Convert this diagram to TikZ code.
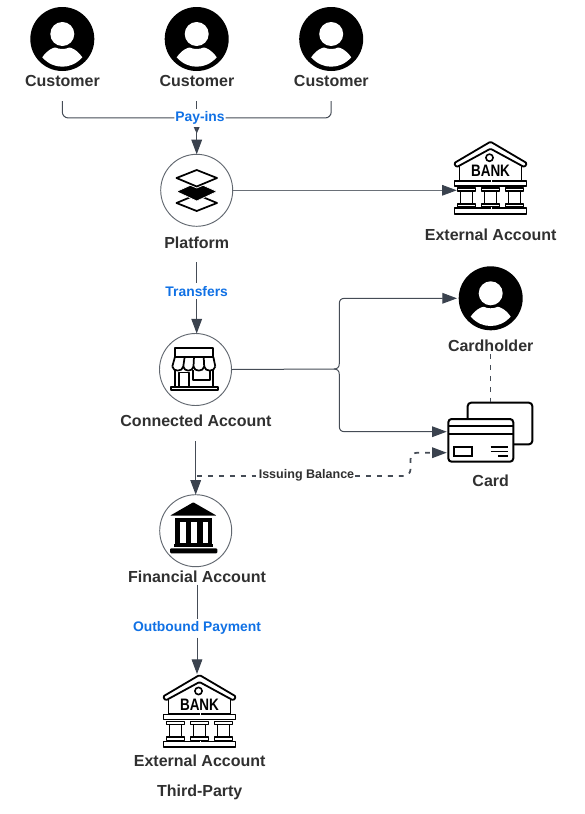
\documentclass[tikz,border=0pt]{standalone}
\usepackage{fontspec}
\setmainfont{Liberation Sans}
\usetikzlibrary{arrows.meta}
\definecolor{txt}{HTML}{303030}
\definecolor{blu}{HTML}{1071E5}
\definecolor{conn}{HTML}{454C56}
\definecolor{tip}{HTML}{3A424E}
\tikzset{
  caption/.style={font=\bfseries\fontsize{12}{14}\selectfont,text=txt,inner sep=0pt,yshift=-0.5pt},
  flowlabel/.style={font=\bfseries\fontsize{10.4}{12}\selectfont,text=blu,fill=white,inner xsep=0.5pt,inner ysep=2pt,yshift=-0.5pt},
  issue/.style={font=\bfseries\fontsize{9.4}{11}\selectfont,text=txt,fill=white,inner xsep=0.5pt,inner ysep=2pt},
  hub/.style={circle,draw=conn!85,line width=0.7pt,minimum size=54pt,inner sep=0pt,outer sep=0pt},
  link/.style={draw=conn,line width=0.75pt,rounded corners=4.5pt},
  thinlink/.style={draw=conn!80,line width=0.6pt},
  arrowed/.style={-{Triangle[length=11pt,width=8pt,color=tip]}},
  dashlink/.style={draw=conn,line width=1.3pt,dash pattern=on 3.6pt off 4.6pt},
  icon/.style={draw=black,line width=1.35pt,line join=round,fill=white},
  person/.pic={
    \fill[black] (0,0) circle[radius=24pt];
    \fill[white] (0,-5) circle[radius=9pt];
    \fill[white] (-20,18.3) .. controls (-15,11) and (-9,8.5) .. (-7,8.5)
      .. controls (-3,10.5) and (3,10.5) .. (7,8.5)
      .. controls (9,8.5) and (15,11) .. (20,18.3)
      .. controls (14,25) and (7,27.7) .. (0,27.7)
      .. controls (-7,27.7) and (-14,25) .. cycle;
  },
  bank/.pic={
    \draw[icon] (-31,20) -- (-31,39) -- (31,39) -- (31,20);
    \draw[icon,rounded corners=1pt] (0,0) -- (36.5,21.5) -- (34,25.5) -- (0,7) -- (-34,25.5) -- (-36.5,21.5) -- cycle;
    \draw[icon,line width=1.2pt] (-1,16) circle[radius=2.7pt];
    \node[font=\bfseries\fontsize{11.5}{12}\selectfont,inner sep=0pt,xscale=0.88,yscale=1.08] at (0,29.3) {BANK};
    \draw[icon] (-36,39.5) rectangle (36,44.5);
    \foreach \cx in {-24,0,24}{
      \draw[icon] (\cx-6,49) rectangle (\cx+6,62);
      \draw[icon] (\cx-9,46.5) rectangle (\cx+9,49.5);
      \draw[icon] (\cx-9,62) rectangle (\cx+9,65.5);
    }
    \draw[icon] (-36,66.5) rectangle (36,72);
    \draw[white,line width=1.2pt] (1,38) -- (1,41);
    \draw[white,line width=1.2pt] (1,65.5) -- (1,68);
  }
}
\begin{document}
\begin{tikzpicture}[x=0.75pt,y=-0.75pt]
\useasboundingbox (0,0) rectangle (585,814);

% customers
\pic at (62.3,39) {person};
\pic at (196.7,39) {person};
\pic at (331.2,39) {person};
\node[caption] (c1) at (62.5,80.5) {Customer};
\node[caption] (c2) at (196.9,80.5) {Customer};
\node[caption] (c3) at (331.3,80.5) {Customer};
\coordinate (c1out) at (62.3,101);
\coordinate (c2out) at (196.7,101);
\coordinate (c3out) at (331.2,101);

% platform
\node[hub] (platform) at (196.7,190.3) {};
\draw[icon,line width=1.3pt] (176.5,203) -- (196.7,194.5) -- (217,203) -- (196.7,211) -- cycle;
\fill[black,draw=white,line width=0.5pt] (176.5,191.5) -- (196.7,182.5) -- (217,191.5) -- (196.7,201) -- cycle;
\draw[draw=white,line width=2.6pt,fill=white] (176.5,178) -- (196.7,170) -- (217,178) -- (196.7,186.5) -- cycle;
\draw[icon,line width=1.3pt] (176.5,178) -- (196.7,170) -- (217,178) -- (196.7,186.5) -- cycle;
\node[caption] (platlabel) at (196.7,242) {Platform};

% connections from customers
\node[flowlabel] (payins) at (200,117.3) {Pay-ins};
\coordinate (payout) at (196.7,127);
\path[link] (c1out) |- (payins.west);
\path[link] (c3out) |- (payins.east);
\draw[link] (c2out) -- (c2out |- payins.north);
\fill[tip] (193.7,127) -- (199.7,127) -- (196.7,133.5) -- cycle;
\draw[link,arrowed] (payout) -- (platform.north);

% external account 1
\pic at (490.5,141.7) {bank};
\coordinate (bank1in) at (456.7,190.3);
\node[caption] (ext1) at (490.7,234) {External Account};
\draw[thinlink,arrowed] (platform.east) -- (bank1in);

% connected account
\node[hub] (connected) at (195.5,369.5) {};
\begin{scope}[line width=1.3pt,line join=round]
\draw (175,348.3) rectangle (213.3,356.7);
\draw (175,356.7) -- (172.3,366.5);
\draw (213.3,356.7) -- (215.3,366.5);
\draw (184.7,356.7) -- (183.3,366.5);
\draw (194,356.7) -- (193.5,366.5);
\draw (203.7,356.7) -- (204.2,366.5);
\draw (172.3,366.5) .. controls (173,372) and (182.5,372) .. (183.3,366.5)
      .. controls (184,372) and (192.8,372) .. (193.5,366.5)
      .. controls (194,372) and (203.5,372) .. (204.2,366.5)
      .. controls (205,372) and (214.6,372) .. (215.3,366.5);
\draw (175,370) -- (175,387);
\draw (213.3,370) -- (213.3,387);
\draw (179,387) -- (179,372.5) -- (189,372.5) -- (189,387);
\draw (193.3,370) -- (193.3,380) -- (210,380) -- (210,370);
\draw (171,387.2) rectangle (218.3,390.2);
\end{scope}
\node[caption] (connlabel) at (196,420.5) {Connected Account};

% platform to connected
\coordinate (platout) at (196.7,262);
\node[flowlabel] (transfers) at (196.7,290.5) {Transfers};
\draw[link] (platout) -- (transfers.north);
\draw[link,arrowed] (transfers.south) -- (connected.north -| transfers.south);

% cardholder
\pic at (490.7,298.3) {person};
\coordinate (holderin) at (457,298.3);
\node[caption] (holder) at (490.7,345.3) {Cardholder};
\coordinate (holderout) at (490.5,354);
\coordinate (cardtop) at (490.5,402);

% card
\coordinate (cardin) at (446.7,431.7);
\coordinate (cardin2) at (446.7,452.7);
\draw[line width=1.5pt,rounded corners=2.5pt,line join=round] (467.7,419) -- (467.7,402.7) -- (532.3,402.7) -- (532.3,444.3) -- (513.3,444.3);
\draw[line width=1.5pt,rounded corners=2.5pt,fill=white] (448.3,419) rectangle (513.3,461.7);
\draw[line width=1.5pt] (448.3,425.7) -- (513.3,425.7);
\draw[line width=1.5pt] (448.3,434.3) -- (513.3,434.3);
\draw[line width=1.4pt] (454,447.3) rectangle (471.7,456);
\draw[line width=1.4pt] (490.7,447.3) -- (508.3,447.3);
\draw[line width=1.4pt] (490.7,451.5) -- (508.3,451.5);
\draw[line width=1.4pt] (498,455.7) -- (508.3,455.7);
\node[caption] (cardlabel) at (490.7,480) {Card};
\draw[dashlink] (holderout) -- (cardtop);

% connected to cardholder and card
\coordinate (fork) at (334,369);
\draw[draw=conn,line width=0.75pt,arrowed] (connected.east) -- (fork) .. controls (337.5,369) and (339.3,367) .. (339.3,363.5) -- (339.3,304) .. controls (339.3,300) and (341,298.3) .. (345,298.3) -- (holderin);
\draw[draw=conn,line width=0.75pt,arrowed] (fork) .. controls (337.5,369) and (339.3,371) .. (339.3,374.5) -- (339.3,426) .. controls (339.3,430) and (341,431.7) .. (345,431.7) -- (cardin);

% connected to financial
\node[hub] (financial) at (195.7,530.7) {};
\coordinate (connout) at (195.7,441);
\draw[link,arrowed] (connout) -- (financial.north);
\fill[black,rounded corners=0.6pt] (193.3,502.3) -- (216.7,515.7) -- (170,515.7) -- cycle;
\fill[black] (175,518.3) rectangle (211.7,546);
\fill[white] (180,522) rectangle (186,542.5);
\fill[white] (191,522) rectangle (196.7,542.5);
\fill[white] (202.7,522) rectangle (208.3,542.5);
\fill[black] (174,544.3) rectangle (213.3,547.3);
\fill[black,rounded corners=0.8pt] (170,548.3) rectangle (217.3,553.3);
\node[caption] (finlabel) at (197,576) {Financial Account};

% issuing balance
\coordinate (issuestart) at (197,476);
\node[issue] (issuing) at (306.5,475) {Issuing Balance};
\draw[dashlink] (issuestart) -- (issuing.west |- issuestart);
\draw[dashlink,rounded corners=5pt] (issuing.east |- issuestart) -- (410.5,476) -- (410.5,452.7) -- (430,452.7);
\draw[draw=conn,line width=1pt,arrowed] (433,452.7) -- (cardin2);

% financial to third party
\coordinate (finout) at (197,584.5);
\node[flowlabel] (outbound) at (197,627.5) {Outbound Payment};
\coordinate (bank2in) at (197,674);
\draw[link] (finout) -- (outbound.north);
\draw[link,arrowed] (outbound.south) -- (bank2in);

% external third party
\pic at (199.5,675) {bank};
\node[caption] (ext2) at (199.7,760) {External Account};
\node[caption] (third) at (199.7,792) {Third-Party};
\end{tikzpicture}
\end{document}
